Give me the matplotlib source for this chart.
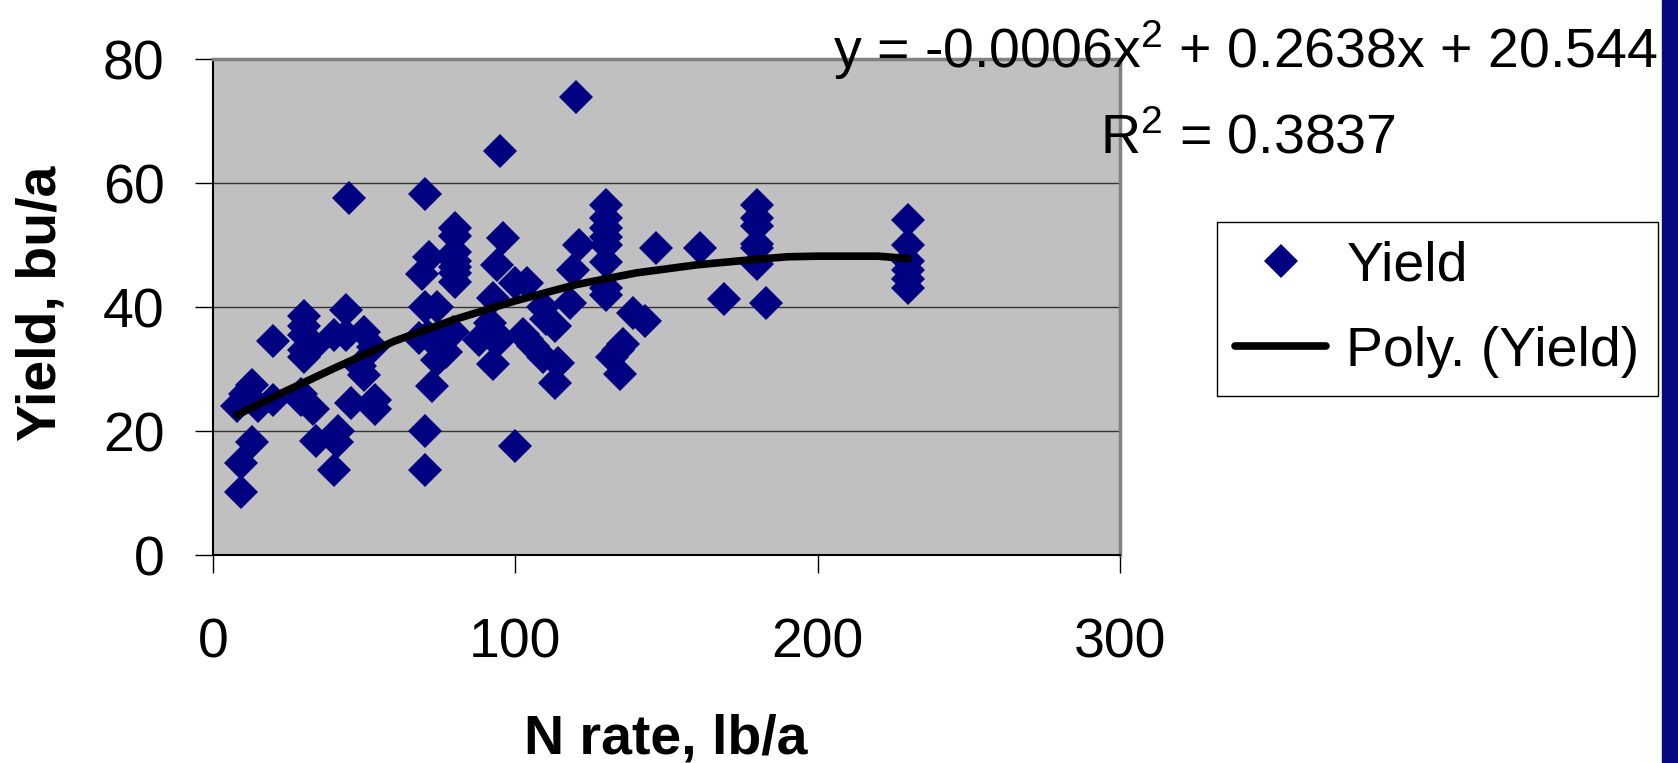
import matplotlib
matplotlib.use("Agg")
import matplotlib.pyplot as plt
from matplotlib.patches import Rectangle

plt.rcParams['font.family'] = ['Liberation Sans', 'DejaVu Sans']
plt.rcParams['mathtext.fontset'] = 'custom'
plt.rcParams['mathtext.rm'] = 'Liberation Sans'
plt.rcParams['mathtext.it'] = 'Liberation Sans'

# N rate (lb/a) and yield (bu/a)
n_rate = [45, 44, 30, 30, 20, 30, 30, 33, 30, 40, 44, 50, 53, 48.5, 50,
          13, 10.5, 8, 15, 20, 29, 29, 33, 45.5, 53.5, 53.5, 13, 9.4, 9.4,
          34, 41.5, 41, 40,
          120, 95, 70, 80, 80, 80, 80, 80, 80, 80, 96, 71.5, 69, 94, 121,
          119, 70, 74, 92.5, 100, 104, 109, 113, 118, 68, 71, 75, 79.5, 74,
          77, 72.5, 88, 91.5, 94, 92.5, 93.5, 102.5, 106, 109, 114, 113,
          110, 70, 70, 100, 104,
          130, 130, 130, 130, 130, 130, 146.5, 161, 180, 180, 180, 180, 180,
          180, 130, 130, 169, 183, 139, 143, 135.5, 134, 132, 134.5,
          230, 230, 230, 230, 230, 230]
yield_bu = [57.6, 39.5, 38.5, 37, 34.5, 35.5, 33, 33.5, 32, 35.5, 35.5, 36,
            33.5, 30.5, 29, 27.5, 26, 24, 24, 25, 26, 25, 23.5, 24.5, 25,
            23.5, 18.3, 14.8, 10.2, 18.4, 20, 18.2, 13.7,
            73.8, 65.2, 58.3, 52.7, 51.5, 48.8, 47.5, 46.5, 45.5, 44, 51.2,
            48, 45.4, 46.7, 50, 46, 40, 40, 41.5, 43.8, 43.8, 40, 37, 40.6,
            35, 35.3, 34.5, 36, 31.5, 32.7, 27.3, 34.6, 37.5, 34.3, 30.8,
            35.6, 35.6, 33.7, 32, 31, 27.8, 38, 20, 13.7, 17.6, 34.8,
            56.5, 54.3, 52.7, 51.3, 50, 47.2, 49.5, 49.5, 56.5, 54.3, 53,
            50.2, 49.5, 47, 43, 42, 41.3, 40.6, 39, 37.8, 34, 33, 32, 29.2,
            54, 50, 47.5, 46, 44.5, 43]

# polynomial trendline as drawn on the chart
trend_x = [8, 20, 40, 60, 80, 100, 120, 140, 160, 180, 190, 200, 210, 220, 230]
trend_y = [22.6, 25.5, 30.1, 34.5, 38.0, 41.0, 43.6, 45.5, 46.8, 47.7, 48.1,
           48.2, 48.2, 48.2, 47.8]

W, H = 1678, 763
fig = plt.figure(figsize=(W / 100, H / 100), dpi=100)
ax = fig.add_axes([213 / W, 1 - 555 / H, 907 / W, 496 / H])
ax.set_facecolor('#C0C0C0')

ax.plot(n_rate, yield_bu, linestyle='none', marker='D', markersize=17.5,
        color='#000080', markeredgewidth=0, label='Yield', zorder=3)
ax.plot(trend_x, trend_y, color='black', linewidth=5.5, label='Poly. (Yield)',
        zorder=4, solid_capstyle='round')

ax.set_xlim(0, 300)
ax.set_ylim(0, 80)
ax.set_xticks([0, 100, 200, 300])
ax.set_yticks([0, 20, 40, 60, 80])
ax.yaxis.grid(True, color='#333333', linewidth=1)
ax.set_axisbelow(True)
ax.tick_params(axis='both', direction='out', length=13, width=1,
               labelsize=40, colors='black')
ax.tick_params(axis='y', pad=22)
ax.tick_params(axis='x', pad=32)

for side in ['top', 'right']:
    ax.spines[side].set_color('#808080')
    ax.spines[side].set_linewidth(2.5)
for side in ['left', 'bottom']:
    ax.spines[side].set_color('black')
    ax.spines[side].set_linewidth(1.5)

fig.text(666 / W, 1 - 753 / H, 'N rate, lb/a', fontsize=40, fontweight='bold',
         ha='center', va='baseline')
fig.text(55 / W, 1 - 303 / H, 'Yield, bu/a', fontsize=40, fontweight='bold',
         rotation=90, rotation_mode='anchor', ha='center', va='baseline')

fig.text(1245 / W, 1 - 68 / H, r'y = -0.0006x$^2$ + 0.2638x + 20.544',
         fontsize=40, ha='center', va='baseline')
fig.text(1248 / W, 1 - 153 / H, r'R$^2$ = 0.3837',
         fontsize=40, ha='center', va='baseline')

leg = ax.legend(loc='upper left', bbox_to_anchor=(1217 / W, 1 - 222 / H),
                bbox_transform=fig.transFigure, fontsize=40, numpoints=1,
                borderaxespad=0, borderpad=0.33, handlelength=1.64,
                handletextpad=0.36, labelspacing=0.6, fancybox=False,
                framealpha=1, edgecolor='black')
leg.get_frame().set_linewidth(1)

fig.patches.append(Rectangle((1662 / W, 0), 16 / W, 1, transform=fig.transFigure,
                             color='#0A0A80'))

fig.savefig('out.png', dpi=100)
